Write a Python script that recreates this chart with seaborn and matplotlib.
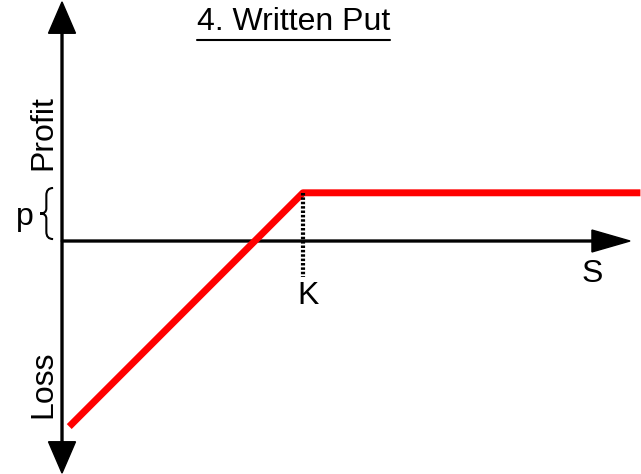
import matplotlib
matplotlib.use("Agg")
import matplotlib.pyplot as plt
from matplotlib.path import Path
from matplotlib.patches import PathPatch
import seaborn as sns
import pandas as pd

# ---- data (payoff of a written put, K = 100, premium p = 20) ----
stock_price = [3, 100, 240]
profit = [-77, 20, 20]
strike = 100
premium = 20
title_text = "4. Written Put"
label_profit = "Profit"
label_loss = "Loss"
label_s = "S"
label_k = "K"
label_p = "p"

sns.set_theme(style="white")
plt.rcParams["font.family"] = ["Liberation Sans", "DejaVu Sans"]
plt.rcParams["text.color"] = "black"

fig = plt.figure(figsize=(6.41, 4.74), dpi=100)
ax = fig.add_axes([0, 0, 1, 1])
ax.set_xlim(-25.73, 240.25)
ax.set_ylim(-96.68, 100.0)
ax.axis("off")

FS = 23

# axes arrows
ax.arrow(0, 0, 0, 99.2, width=0.8, head_width=11.2, head_length=13,
         length_includes_head=True, fc="black", ec="black", zorder=2)
ax.arrow(0, 0, 0, -96.3, width=0.8, head_width=11.2, head_length=13,
         length_includes_head=True, fc="black", ec="black", zorder=2)
ax.arrow(0, 0, 235.7, 0, width=0.8, head_width=9.1, head_length=15.8,
         length_includes_head=True, fc="black", ec="black", zorder=2)

# payoff line
df = pd.DataFrame({"S": stock_price, "Profit": profit})
sns.lineplot(data=df, x="S", y="Profit", ax=ax, color="red", lw=5,
             sort=False, solid_capstyle="butt", zorder=3)

# dotted strike line
ax.plot([strike, strike], [premium, -15], color="black", lw=3.0,
        ls=(0, (0.6, 0.45)), dash_capstyle="butt", zorder=4)

# brace for premium
verts = [(-3.7, 22.0), (-6.5, 22.0), (-6.5, 19.0),
         (-6.5, 13.5),
         (-6.5, 11.4), (-9.1, 11.4),
         (-6.5, 11.4), (-6.5, 9.3),
         (-6.5, 3.8),
         (-6.5, 0.8), (-3.7, 0.8)]
codes = [Path.MOVETO, Path.CURVE3, Path.CURVE3,
         Path.LINETO,
         Path.CURVE3, Path.CURVE3,
         Path.CURVE3, Path.CURVE3,
         Path.LINETO,
         Path.CURVE3, Path.CURVE3]
ax.add_patch(PathPatch(Path(verts, codes), fc="none", ec="black", lw=1.5))

# labels
ax.text(-15.4, 6.6, label_p, fontsize=FS, ha="center", va="baseline",
        color="black")
ax.text(102, -23.0, label_k, fontsize=FS, ha="center", va="center",
        color="black")
ax.text(219.9, -13.7, label_s, fontsize=FS, ha="center", va="center",
        color="black")
ax.text(-7.9, 45.2, label_profit, fontsize=FS, ha="center", va="center",
        rotation=90, color="black")
ax.text(-7.9, -59.5, label_loss, fontsize=FS, ha="center", va="center",
        rotation=90, color="black")

title = ax.text(96.1, 87.6, title_text, fontsize=FS, ha="center",
                va="baseline", color="black")
fig.canvas.draw()
bb = title.get_window_extent(renderer=fig.canvas.get_renderer())
inv = ax.transData.inverted()
(x0, _), (x1, _) = inv.transform([(bb.x0, 0), (bb.x1, 0)])
ax.plot([x0, x1], [83.6, 83.6], color="black", lw=1.5)

fig.savefig("out.png", dpi=100)
